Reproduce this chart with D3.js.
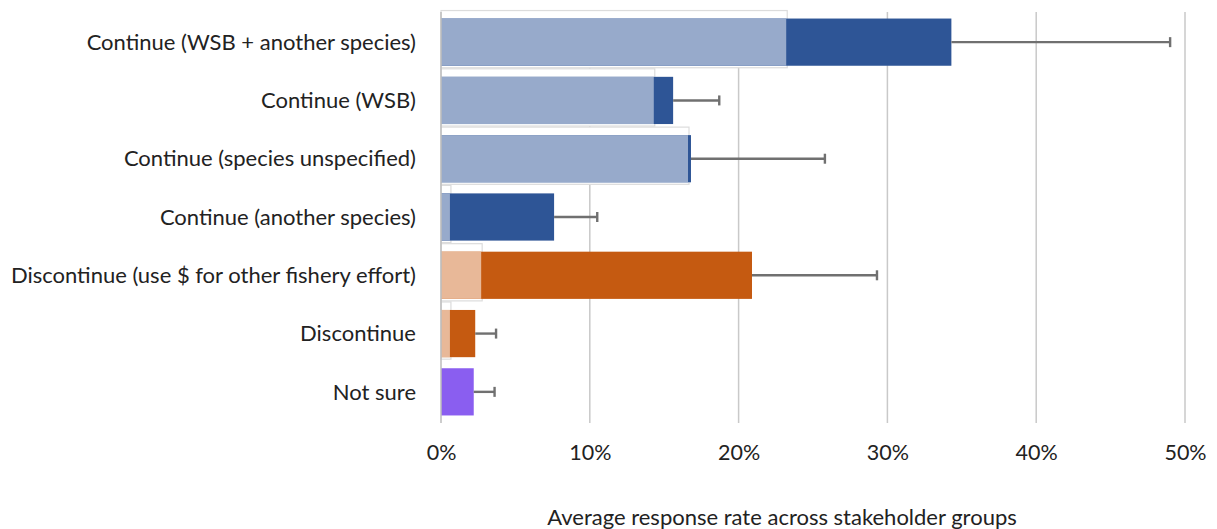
<!DOCTYPE html>
<html>
<head>
<meta charset="utf-8">
<script src="https://cdn.jsdelivr.net/npm/d3@7"></script>
<style>
  html, body { margin: 0; padding: 0; background: #fff; }
  svg text { font-family: Lato, "Open Sans", sans-serif; fill: #222; }
</style>
</head>
<body>
<svg id="chart" width="1217" height="529"></svg>
<script>
// Response options, top to bottom
const categories = [
  "Continue (WSB + another species)",
  "Continue (WSB)",
  "Continue (species unspecified)",
  "Continue (another species)",
  "Discontinue (use $ for other fishery effort)",
  "Discontinue",
  "Not sure"
];
// Average response rate (%) across stakeholder groups
const totalValues = [34.3, 15.6, 16.8, 7.6, 20.9, 2.3, 2.2];
// Share of the total contributed by the lighter sub-group (%)
const subgroupValues = [23.2, 14.3, 16.6, 0.6, 2.7, 0.6, 0];
// Upper end of the error bar (%)
const errorUpper = [49.0, 18.7, 25.8, 10.5, 29.3, 3.7, 3.6];
// Colour family per option
const family = ["blue", "blue", "blue", "blue", "orange", "orange", "purple"];
const xTicks = [0, 10, 20, 30, 40, 50];
const xTitle = "Average response rate across stakeholder groups";

const darkColor = { blue: "#2e5596", orange: "#c55a11", purple: "#8a5ef0" };
const lightColor = { blue: "#97aacb", orange: "#e8b898", purple: "#c5b0f6" };

const svg = d3.select("#chart");
const margin = { left: 441, right: 32, top: 12, bottom: 106 };
const W = 1217, H = 529;

const x = d3.scaleLinear().domain([0, 50]).range([margin.left, W - margin.right]);
const y = d3.scaleBand().domain(categories)
  .range([13, 421]).paddingInner(0.19).paddingOuter(0.095);

const rows = categories.map((c, i) => ({
  cat: c, total: totalValues[i], sub: subgroupValues[i],
  err: errorUpper[i], fam: family[i]
}));

// vertical gridlines
svg.append("g").selectAll("line").data(xTicks.slice(1)).join("line")
  .attr("x1", d => x(d)).attr("x2", d => x(d))
  .attr("y1", margin.top).attr("y2", 423)
  .attr("stroke", "#c9c9c9").attr("stroke-width", 1.5);

// light outline frame behind the sub-group bar
svg.append("g").selectAll("rect").data(rows.filter(d => d.sub > 0)).join("rect")
  .attr("x", x(0)).attr("y", d => y(d.cat) - 8)
  .attr("width", d => x(d.sub) - x(0) + 1)
  .attr("height", y.bandwidth() + 10)
  .attr("fill", "#fff").attr("stroke", "#dcdcdc").attr("stroke-width", 1.2);

// full (dark) bars
svg.append("g").selectAll("rect").data(rows).join("rect")
  .attr("x", x(0)).attr("y", d => y(d.cat))
  .attr("width", d => x(d.total) - x(0))
  .attr("height", y.bandwidth())
  .attr("fill", d => darkColor[d.fam]);

// lighter sub-group bars on top
svg.append("g").selectAll("rect").data(rows.filter(d => d.sub > 0)).join("rect")
  .attr("x", x(0)).attr("y", d => y(d.cat))
  .attr("width", d => x(d.sub) - x(0))
  .attr("height", y.bandwidth())
  .attr("fill", d => lightColor[d.fam]);

// error bars
const eb = svg.append("g").attr("stroke", "#707070").attr("stroke-width", 2.4);
eb.selectAll("line.stem").data(rows).join("line").attr("class", "stem")
  .attr("x1", d => x(d.total)).attr("x2", d => x(d.err))
  .attr("y1", d => y(d.cat) + y.bandwidth() / 2)
  .attr("y2", d => y(d.cat) + y.bandwidth() / 2);
eb.selectAll("line.cap").data(rows).join("line").attr("class", "cap")
  .attr("x1", d => x(d.err)).attr("x2", d => x(d.err))
  .attr("y1", d => y(d.cat) + y.bandwidth() / 2 - 5)
  .attr("y2", d => y(d.cat) + y.bandwidth() / 2 + 5);

// category axis line
svg.append("line")
  .attr("x1", x(0)).attr("x2", x(0)).attr("y1", margin.top).attr("y2", 423)
  .attr("stroke", "#bdbdbd").attr("stroke-width", 1.5);

// category labels
svg.append("g").selectAll("text").data(categories).join("text")
  .attr("x", 416).attr("y", d => y(d) + y.bandwidth() / 2)
  .attr("dy", "0.35em").attr("text-anchor", "end")
  .attr("font-size", 22).text(d => d);

// value axis
const xAxis = d3.axisBottom(x).tickValues(xTicks).tickFormat(d => d + "%").tickSize(0);
const ax = svg.append("g").attr("transform", "translate(0,442)").call(xAxis);
ax.select(".domain").remove();
ax.selectAll("text").attr("font-size", 21.5).attr("dy", "0.71em")
  .style("font-family", "Lato, 'Open Sans', sans-serif").attr("fill", "#222");

svg.append("text")
  .attr("x", 782).attr("y", 525).attr("text-anchor", "middle")
  .attr("font-size", 22).text(xTitle);
</script>
</body>
</html>
